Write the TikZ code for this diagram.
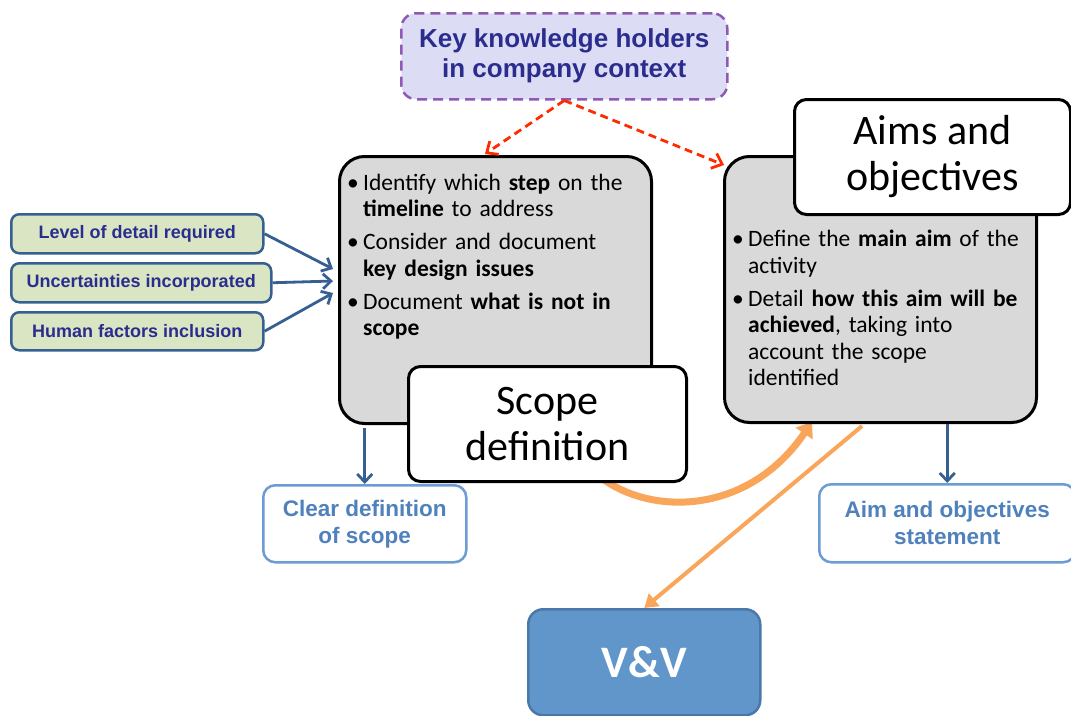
\documentclass[tikz,border=0pt]{standalone}
\usepackage{fontspec}
\setmainfont{Carlito}
\newfontfamily\headfont{Liberation Sans}
\usetikzlibrary{arrows.meta,calc}
\pgfdeclarelayer{bg}
\pgfsetlayers{bg,main}

\definecolor{boxgray}{HTML}{D9D9D9}
\definecolor{lavender}{HTML}{DCDDF5}
\definecolor{purpledash}{HTML}{8E5AB4}
\definecolor{navy}{HTML}{2B2D8E}
\definecolor{greenfill}{HTML}{D9E5C3}
\definecolor{steel}{HTML}{376092}
\definecolor{lightblue}{HTML}{6D9BD3}
\definecolor{outtext}{HTML}{4F81BD}
\definecolor{vvfill}{HTML}{6096C9}
\definecolor{vvborder}{HTML}{4A78A8}
\definecolor{flow}{HTML}{F9A65A}
\definecolor{linkred}{HTML}{FF2A00}

% bullet item with hanging indent
\newcommand{\bitem}[1]{\hangindent=11pt\hangafter=1\noindent\makebox[11pt][l]{\kern-5pt\textbullet}#1\par}

\begin{document}
\begin{tikzpicture}[x=1pt,y=-1pt,
  graybox/.style={draw=black, line width=3pt, fill=boxgray, rounded corners=25pt,
    inner sep=0pt, anchor=north west},
  titlebox/.style={draw=black, line width=3pt, fill=white, rounded corners=12pt,
    align=center, inner sep=0pt, anchor=north west, font=\fontsize{42}{46}\selectfont},
  bullettext/.style={anchor=north west, inner sep=0pt, text width=300pt, align=left,
    font={\fontsize{23.5}{26.5}\selectfont\parindent=0pt}},
  knowbox/.style={draw=purpledash, dash pattern=on 10pt off 6pt, line width=2.5pt,
    fill=lavender, rounded corners=15pt, align=center, inner sep=0pt, anchor=north west,
    text=navy, font=\headfont\bfseries\fontsize{26}{30}\selectfont},
  greenbox/.style={draw=steel, line width=2.5pt, fill=greenfill, rounded corners=8pt,
    inner sep=0pt, anchor=north west, text=navy,
    font=\headfont\bfseries\fontsize{18}{20}\selectfont},
  outbox/.style={draw=lightblue, line width=2.5pt, fill=white, rounded corners=12pt,
    align=center, inner sep=0pt, anchor=north west, text=outtext,
    font=\headfont\bfseries\fontsize{22.5}{27}\selectfont},
  vvbox/.style={draw=vvborder, line width=2.5pt, fill=vvfill, rounded corners=15pt,
    inner sep=0pt, anchor=north west, text=white, font=\bfseries\fontsize{45}{48}\selectfont},
  bluearrow/.style={draw=steel, line width=2.8pt, -{Straight Barb[length=8pt,width=15pt]}},
  redarrow/.style={draw=linkred, line width=2.8pt, dash pattern=on 8pt off 5pt,
    -{Straight Barb[length=9pt,width=16pt]}},
  flowthick/.style={draw=flow, line width=7pt, -{Triangle[length=14pt,width=20pt]}},
  flowthin/.style={draw=flow, line width=4pt, -{Triangle[length=13pt,width=16pt]}}
]
\useasboundingbox (0,0) rectangle (1071,715);

% knowledge holders
\node[knowbox, minimum width=326pt, minimum height=86pt] (know) at (400,12)
  {Key knowledge holders\\in company context};

% scope definition block
\node[graybox, minimum width=312pt, minimum height=267pt] (scopebox) at (338,155) {};
\node[bullettext] (scopetext) at (352,173.5) {%
  \bitem{Identify which \textbf{step} on the\newline\textbf{timeline} to address}\vspace{6.5pt}%
  \bitem{Consider and document\newline\textbf{key design issues}}\vspace{6.5pt}%
  \bitem{Document \textbf{what is not in}\newline\textbf{scope}}};
\node[titlebox, minimum width=278pt, minimum height=115pt] (scopetitle) at (407,365)
  {Scope\\definition};

% aims block
\node[graybox, minimum width=312pt, minimum height=266pt] (aimsbox) at (723,155) {};
\node[bullettext] (aimstext) at (737,230) {%
  \bitem{Define the \textbf{main aim} of the\newline activity}\vspace{6.5pt}%
  \bitem{Detail \textbf{how this aim will be}\newline\textbf{achieved}, taking into\newline account the scope\newline identified}};
\node[titlebox, minimum width=276pt, minimum height=115pt] (aimstitle) at (793,98)
  {Aims and\\objectives};

% inputs
\node[greenbox, minimum width=252pt, minimum height=39pt] (g1) at (10,213) {Level of detail required};
\node[greenbox, minimum width=260pt, minimum height=39pt] (g2) at (10,262) {Uncertainties incorporated};
\node[greenbox, minimum width=252pt, minimum height=38pt] (g3) at (10,311) {Human factors inclusion};

% outputs
\node[outbox, minimum width=203pt, minimum height=77pt] (clear) at (262,484)
  {Clear definition\\of scope};
\node[outbox, minimum width=256pt, minimum height=78pt] (stmt) at (818,483)
  {Aim and objectives\\statement};
\node[vvbox, minimum width=232pt, minimum height=106pt] (vv) at (527,608) {V\&V};

% connectors
\coordinate (in1) at (333,269);
\coordinate (in2) at (333,281);
\coordinate (in3) at (333,293);
\draw[bluearrow] (g1.east) -- (in1);
\draw[bluearrow] (g2.east) -- (in2);
\draw[bluearrow] (g3.east) -- (in3);

\draw[bluearrow, shorten <=3pt] (clear.north |- scopebox.south) -- (clear.north);
\draw[bluearrow] (stmt.north |- aimsbox.south) -- (stmt.north);

\coordinate (scopetip) at (485,154);
\coordinate (aimstip) at (724,165);
\draw[redarrow] (know.south) -- (scopetip);
\draw[redarrow] (know.south) -- (aimstip);

\coordinate (vvfrom) at (862,426);
\draw[flowthin] (vvfrom) -- (vv.north);

\coordinate (curvestart) at (592,470);
\coordinate (curveend) at (812,422);
\begin{pgfonlayer}{bg}
  \draw[flowthick] (curvestart) .. controls (640,516) and (745,520) .. (curveend);
\end{pgfonlayer}
\end{tikzpicture}
\end{document}
